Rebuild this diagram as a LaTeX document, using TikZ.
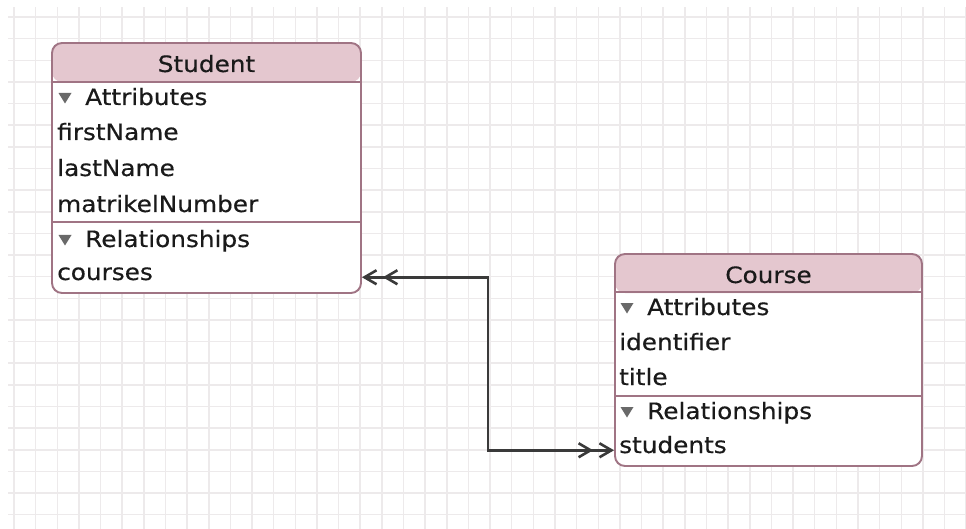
\documentclass[tikz,border=0pt]{standalone}
\usepackage{fontspec}
\setmainfont{DejaVu Sans}
\newfontfamily\erfont[FakeStretch=1.1,FakeBold=0.35]{DejaVu Sans}
\usetikzlibrary{arrows.meta}

\definecolor{gridline}{RGB}{237,234,235}
\definecolor{boxedge}{RGB}{160,116,132}
\definecolor{headfill}{RGB}{228,199,207}
\definecolor{linkgray}{RGB}{58,58,58}
\definecolor{trigray}{RGB}{105,105,105}
\definecolor{ink}{RGB}{26,26,26}

\tikzset{
  gridstroke/.style={draw=gridline, line width=1.5pt},
  entity/.style={draw=boxedge, line width=1.9pt, rounded corners=10pt, fill=white,
    inner sep=0pt,
    path picture={\fill[headfill] (path picture bounding box.north west)
      rectangle ([yshift=-39pt]path picture bounding box.north east);}},
  divider/.style={draw=boxedge, line width=1.9pt},
  row/.style={anchor=base west, inner sep=0pt, text=ink,
    font=\erfont\fontsize{22.5}{27}\selectfont},
  entitytitle/.style={anchor=base, inner sep=0pt, text=ink,
    font=\erfont\fontsize{22.5}{27}\selectfont},
  barb/.tip={Straight Barb[length=12pt,width=14pt,line width=2.6pt]},
  relation/.style={draw=linkgray, line width=2.8pt,
    {barb[] barb[sep=5pt]}-{barb[sep=5pt] barb[]}},
  disclosure/.pic={\fill[trigray] (-6.5,-12) -- (6.5,-12) -- (0,-1.5) -- cycle;}
}

\begin{document}
\begin{tikzpicture}[x=1pt,y=-1pt]
\useasboundingbox (0,0) rectangle (966,529);

% background grid
\foreach \i in {0,...,44}
  \draw[gridstroke] ({14+21.64*\i},7) -- ({14+21.64*\i},529);
\foreach \j in {0,...,23}
  \draw[gridstroke] (8,{17+21.64*\j}) -- (966,{17+21.64*\j});

% Student entity
\node[entity, minimum width=309pt, minimum height=250pt] (student) at (206.5,168) {};
\draw[divider] (student.west |- 0,82) -- (student.east |- 0,82);
\draw[divider] (student.west |- 0,222) -- (student.east |- 0,222);
\node[entitytitle] (studentTitle) at (206.5,72) {Student};
\pic at (65,105) {disclosure};
\node[row] (sAttributes) at (85,105) {Attributes};
\node[row] (firstName) at (57,140) {firstName};
\node[row] (lastName) at (57,176) {lastName};
\node[row] (matrikelNumber) at (57,212) {matrikelNumber};
\pic at (65,247) {disclosure};
\node[row] (sRelationships) at (85,247) {Relationships};
\node[row] (courses) at (57,280) {courses};

% Course entity
\node[entity, minimum width=307pt, minimum height=212pt] (course) at (768.5,360) {};
\draw[divider] (course.west |- 0,292) -- (course.east |- 0,292);
\draw[divider] (course.west |- 0,396) -- (course.east |- 0,396);
\node[entitytitle] (courseTitle) at (768.5,283) {Course};
\pic at (627,315) {disclosure};
\node[row] (cAttributes) at (647,315) {Attributes};
\node[row] (identifier) at (619,350) {identifier};
\node[row] (title) at (619,385) {title};
\pic at (627,419) {disclosure};
\node[row] (cRelationships) at (647,419) {Relationships};
\node[row] (students) at (619,453) {students};

% to-many relationship between the two entities
\coordinate (elbow) at (488,360);
\draw[relation] (student.east |- courses.mid) -| (elbow) |- (course.west |- students.mid);
\end{tikzpicture}
\end{document}
